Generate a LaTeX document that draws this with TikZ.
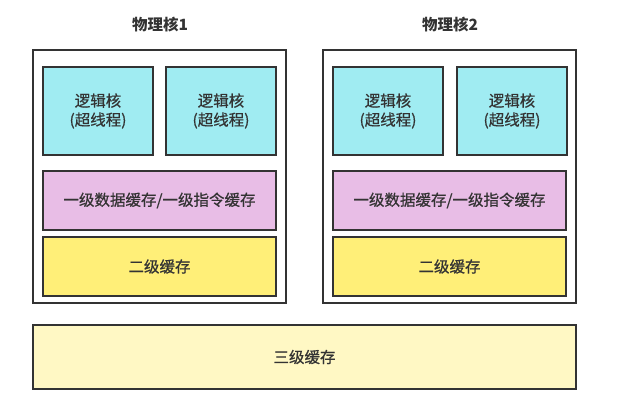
\documentclass[tikz,border=0pt]{standalone}
\usepackage{fontspec}
\setmainfont{Noto Sans CJK SC}
\newfontfamily\boxfont{Noto Sans CJK SC}[FakeBold=0.6]
\usepackage{tikz}

\definecolor{ink}{HTML}{333333}
\definecolor{corefill}{HTML}{A0ECF2}
\definecolor{lonefill}{HTML}{E8BDE6}
\definecolor{ltwofill}{HTML}{FFEF78}
\definecolor{lthreefill}{HTML}{FFF8C4}

\begin{document}
\begin{tikzpicture}[x=1pt, y=-1pt,
    box/.style={draw=ink, line width=1.6pt, inner sep=0pt, text=ink, align=center,
      font=\boxfont\fontsize{15.5}{19}\selectfont},
    title/.style={text=ink, font=\fontsize{15.5}{18}\selectfont\bfseries}]
  \useasboundingbox (0,0) rectangle (617,406);

  \node[title] (T1) at (160,25) {物理核1};
  \node[title] (T2) at (450,25) {物理核2};

  \node[box, minimum width=253pt, minimum height=253pt] (P1) at (159.5,176.5) {};
  \node[box, minimum width=253pt, minimum height=253pt] (P2) at (449.5,176.5) {};

  \node[box, fill=corefill, minimum width=110pt, minimum height=88pt] (C1A) at (98,111) {逻辑核\\(超线程)};
  \node[box, fill=corefill, minimum width=110pt, minimum height=88pt] (C1B) at (221,111) {逻辑核\\(超线程)};
  \node[box, fill=corefill, minimum width=110pt, minimum height=88pt] (C2A) at (388,111) {逻辑核\\(超线程)};
  \node[box, fill=corefill, minimum width=110pt, minimum height=88pt] (C2B) at (512,111) {逻辑核\\(超线程)};

  \node[box, fill=lonefill, minimum width=233pt, minimum height=59pt] (L11) at (159.5,200.5) {一级数据缓存/一级指令缓存};
  \node[box, fill=lonefill, minimum width=233pt, minimum height=59pt] (L12) at (449.5,200.5) {一级数据缓存/一级指令缓存};

  \node[box, fill=ltwofill, minimum width=233pt, minimum height=59pt] (L21) at (159.5,266.5) {二级缓存};
  \node[box, fill=ltwofill, minimum width=233pt, minimum height=59pt] (L22) at (449.5,266.5) {二级缓存};

  \node[box, fill=lthreefill, minimum width=543pt, minimum height=64pt] (L3) at (304.5,357) {三级缓存};
\end{tikzpicture}
\end{document}
